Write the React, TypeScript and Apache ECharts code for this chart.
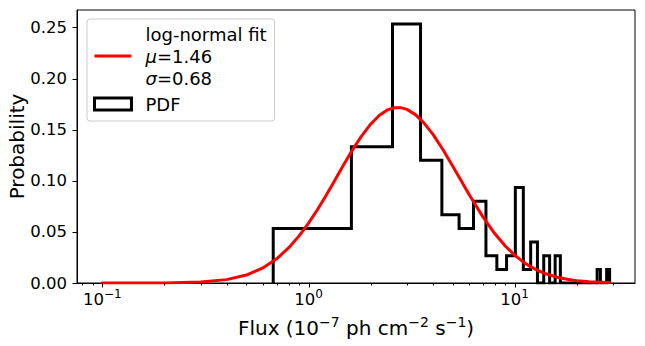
import React, { useEffect, useRef } from 'react';
import * as echarts from 'echarts';

// Histogram (step outline): bin edges and probabilities
const binEdges = [
  0.674, 1.614, 2.554, 3.494, 4.434, 5.374, 6.314, 7.254, 8.194, 9.134,
  10.074, 11.014, 11.954, 12.894, 13.834, 14.774, 15.714, 16.654, 17.594, 18.534,
  19.474, 20.414, 21.354, 22.294, 23.234, 24.174, 25.114, 26.054, 26.994, 27.934, 28.874,
];
const binProb = [
  0.0533, 0.1333, 0.2533, 0.12, 0.0667, 0.0533, 0.08, 0.0267, 0.0133, 0.0267,
  0.0933, 0.0133, 0.04, 0, 0.0267, 0, 0.0267, 0, 0, 0,
  0, 0, 0, 0, 0, 0, 0.0133, 0, 0, 0.0133,
];

// Log-normal fit curve
const fitX = [
  0.1, 0.2, 0.3, 0.4, 0.5, 0.6, 0.7, 0.8, 0.9, 1.0, 1.1, 1.2, 1.3, 1.4, 1.5, 1.6, 1.7, 1.8,
  2.0, 2.2, 2.4, 2.6, 2.8, 3.0, 3.3, 3.6, 4.0, 4.5, 5.0, 5.5, 6.0, 7.0, 8.0, 9.0,
  10, 11, 12, 13, 14, 16, 18, 20, 23, 26, 28.87,
];
const fitY = [
  0.0, 0.0001, 0.0009, 0.0033, 0.0078, 0.0147, 0.0236, 0.0343, 0.0461, 0.0585, 0.0712, 0.0837,
  0.0957, 0.107, 0.1175, 0.1271, 0.1356, 0.1432, 0.1553, 0.1638, 0.169, 0.1714, 0.1715, 0.1698,
  0.1647, 0.1574, 0.1458, 0.1301, 0.1145, 0.1, 0.0868, 0.0649, 0.0484, 0.0362, 0.0272, 0.0206,
  0.0157, 0.0121, 0.0093, 0.0057, 0.0036, 0.0023, 0.0012, 0.0007, 0.0004,
];

const xMajorTicks = [0.1, 1, 10];
const xMajorExps = ['−1', '0', '1'];
const xMinorTicks = [0.08, 0.09, 0.2, 0.3, 0.4, 0.5, 0.6, 0.7, 0.8, 0.9, 2, 3, 4, 5, 6, 7, 8, 9, 20, 30];
const yTicks = [0, 0.05, 0.1, 0.15, 0.2, 0.25];

const FIT_NAME = 'log-normal fit';
const FIT_LABEL = 'log-normal fit\n{i|μ}=1.46\n{i|σ}=0.68';
const HIST_NAME = 'PDF';

const X_MIN = 0.0753;
const X_MAX = 38.34;
const Y_MAX = 0.267;
const FONT = "'DejaVu Sans', sans-serif";

export default function App() {
  const ref = useRef<HTMLDivElement>(null);

  useEffect(() => {
    if (!ref.current) return;
    const chart = echarts.init(ref.current, undefined, { renderer: 'svg' });

    const histPts: number[][] = [[binEdges[0], 0]];
    for (let i = 0; i < binProb.length; i++) {
      histPts.push([binEdges[i], binProb[i]]);
      histPts.push([binEdges[i + 1], binProb[i]]);
    }
    histPts.push([binEdges[binEdges.length - 1], 0]);

    const fitPts = fitX.map((x, i) => [x, fitY[i]]);

    const tickData: number[][] = [];
    xMajorTicks.forEach((v) => tickData.push([v, 0, 0]));
    xMinorTicks.forEach((v) => tickData.push([v, 0, 1]));
    yTicks.forEach((v) => tickData.push([X_MIN, v, 2]));

    const option: any = {
      animation: false,
      backgroundColor: '#ffffff',
      grid: {
        left: 77, right: 10, top: 10, bottom: 63,
        containLabel: false,
        outerBoundsMode: 'none',
        show: true, borderColor: '#000', borderWidth: 1, backgroundColor: 'transparent',
      },
      legend: {
        orient: 'vertical',
        left: 87, top: 19,
        padding: [4, 8, 6, 6],
        itemGap: 4,
        itemWidth: 37,
        itemHeight: 12,
        selectedMode: false,
        backgroundColor: '#fff',
        borderColor: '#cccccc',
        borderWidth: 1,
        borderRadius: 3,
        textStyle: {
          fontSize: 18, fontFamily: FONT, color: '#000', lineHeight: 22, padding: [0, 0, 0, 9],
          rich: {
            i: { fontSize: 18, fontFamily: FONT, fontStyle: 'italic', color: '#000', lineHeight: 22 },
          },
        },
        formatter: (name: string) => (name === FIT_NAME ? FIT_LABEL : name),
        data: [
          { name: FIT_NAME, icon: 'path://M0,0L40,0L40,3L0,3Z', itemStyle: { color: '#ff0000', borderWidth: 0 } },
          { name: HIST_NAME, icon: 'rect', itemStyle: { color: '#ffffff', borderColor: '#000000', borderWidth: 3 } },
        ],
      },
      xAxis: {
        type: 'log',
        logBase: 10,
        min: X_MIN,
        max: X_MAX,
        axisLine: { show: true, lineStyle: { color: '#000', width: 1 } },
        axisTick: { show: false },
        minorTick: { show: false },
        splitLine: { show: false },
        minorSplitLine: { show: false },
        axisLabel: {
          margin: 5,
          fontSize: 16.5,
          fontFamily: FONT,
          color: '#000',
          lineHeight: 22,
          formatter: (v: number) => {
            const i = xMajorTicks.findIndex((t) => Math.abs(t - v) / t < 1e-6);
            return i < 0 ? '' : `10{s|${xMajorExps[i]}}`;
          },
          rich: {
            s: { fontSize: 12, fontFamily: FONT, color: '#000', lineHeight: 15, verticalAlign: 'top' },
          },
        },
        name: 'Flux (10{s|−7} ph cm{s|−2} s{s|−1})',
        nameLocation: 'middle',
        nameGap: 32,
        nameMoveOverlap: false,
        nameTextStyle: {
          fontSize: 20, fontFamily: FONT, color: '#000', lineHeight: 26,
          rich: {
            s: { fontSize: 14, fontFamily: FONT, color: '#000', lineHeight: 16, verticalAlign: 'top' },
          },
        },
      },
      yAxis: {
        type: 'value',
        min: 0,
        max: Y_MAX,
        interval: 0.05,
        axisLine: { show: true, lineStyle: { color: '#000', width: 1 } },
        axisTick: { show: false },
        splitLine: { show: false },
        axisLabel: {
          margin: 10,
          fontSize: 16.5,
          fontFamily: FONT,
          color: '#000',
          showMaxLabel: false,
          formatter: (v: number) => v.toFixed(2),
        },
        name: 'Probability',
        nameLocation: 'middle',
        nameRotate: 90,
        nameGap: 48,
        nameMoveOverlap: false,
        nameTextStyle: { fontSize: 20, fontFamily: FONT, color: '#000', lineHeight: 24 },
      },
      series: [
        {
          name: HIST_NAME,
          type: 'line',
          data: histPts,
          symbol: 'none',
          showSymbol: false,
          lineStyle: { color: '#000', width: 3, join: 'miter', cap: 'butt' },
          itemStyle: { color: '#000' },
          emphasis: { disabled: true },
          z: 2,
        },
        {
          name: FIT_NAME,
          type: 'line',
          data: fitPts,
          symbol: 'none',
          showSymbol: false,
          lineStyle: { color: '#ff0000', width: 3, join: 'round', cap: 'round' },
          itemStyle: { color: '#ff0000' },
          emphasis: { disabled: true },
          z: 3,
        },
        {
          type: 'custom',
          silent: true,
          clip: false,
          z: 4,
          data: tickData,
          renderItem: (_p: any, api: any) => {
            const x = api.value(0);
            const y = api.value(1);
            const kind = api.value(2);
            const p = api.coord([x, y]);
            if (kind === 2) {
              const yy = Math.round(p[1]) + 0.5;
              return {
                type: 'line',
                shape: { x1: p[0] - 4.5, y1: yy, x2: p[0], y2: yy },
                style: { stroke: '#000', lineWidth: 1 },
              };
            }
            const xx = Math.round(p[0]) + 0.5;
            const len = kind === 0 ? 4.5 : 2.5;
            return {
              type: 'line',
              shape: { x1: xx, y1: p[1], x2: xx, y2: p[1] + len },
              style: { stroke: '#000', lineWidth: 1 },
            };
          },
        },
      ],
    };

    chart.setOption(option);
    return () => chart.dispose();
  }, []);

  return (
    <div
      ref={ref}
      style={{ position: 'fixed', left: 0, top: 0, width: 645, height: 346, background: '#fff' }}
    />
  );
}
